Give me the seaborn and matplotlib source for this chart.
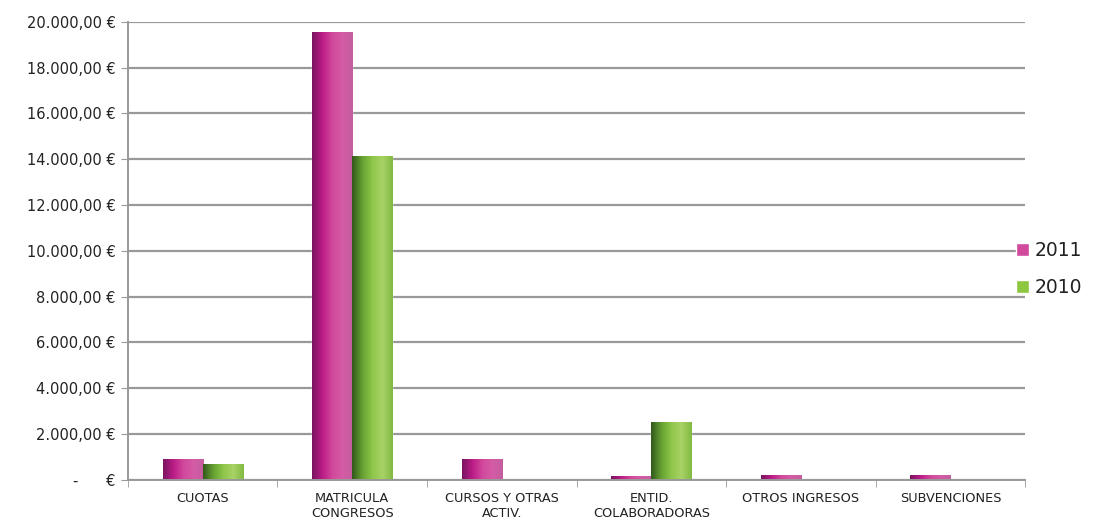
import numpy as np
import pandas as pd
import matplotlib
matplotlib.use("Agg")
import matplotlib.pyplot as plt
from matplotlib.ticker import FuncFormatter, FixedLocator
from matplotlib.colors import LinearSegmentedColormap
import seaborn as sns

categories = ["CUOTAS", "MATRICULA\nCONGRESOS", "CURSOS Y OTRAS\nACTIV.",
              "ENTID.\nCOLABORADORAS", "OTROS INGRESOS", "SUBVENCIONES"]
series_names = ["2011", "2010"]
values_2011 = [905, 19540, 920, 160, 205, 205]
values_2010 = [690, 14140, 0, 2510, 0, 0]
y_ticks = list(range(0, 20001, 2000))

df = pd.DataFrame({
    "cat": categories * 2,
    "year": [series_names[0]] * 6 + [series_names[1]] * 6,
    "val": values_2011 + values_2010,
})

colors = {"2011": "#d24a9e", "2010": "#8dc63f"}
grads = {
    "2011": ["#7a1460", "#bb1c86", "#d2489c", "#d45ca6", "#c45e9e"],
    "2010": ["#33591c", "#66a232", "#8fc64a", "#a8d266", "#82ba42"],
}

sns.set_style("white")
plt.rcParams["font.family"] = ["DejaVu Sans"]

fig = plt.figure(figsize=(11.12, 5.24), dpi=100)
ax = fig.add_axes([0.115, 0.084, 0.807, 0.8746])

sns.barplot(data=df, x="cat", y="val", hue="year", palette=colors,
            width=0.535, ax=ax, saturation=1, legend=True)

ax.set_ylim(0, 20000)
ax.set_xlim(-0.5, 5.5)
ax.yaxis.set_major_locator(FixedLocator(y_ticks))

def fmt(v, pos):
    if v == 0:
        return "-      €"
    s = f"{v:,.2f}".replace(",", "X").replace(".", ",").replace("X", ".")
    return s + " €"
ax.yaxis.set_major_formatter(FuncFormatter(fmt))

ax.grid(axis="y", color="#999999", linewidth=1.6)
ax.set_axisbelow(True)
for s in ["top", "right"]:
    ax.spines[s].set_visible(False)
for s in ["left", "bottom"]:
    ax.spines[s].set_color("#999999")
    ax.spines[s].set_linewidth(1.4)

ax.tick_params(axis="y", left=True, length=5, color="#999999", labelsize=10.5,
               labelcolor="#222222", pad=4)
ax.tick_params(axis="x", which="major", length=0, labelsize=9.3, labelcolor="#222222", pad=9)
ax.set_xticks(np.arange(-0.5, 6.0, 1.0), minor=True)
ax.tick_params(axis="x", which="minor", length=5, color="#999999", bottom=True)
ax.set_xlabel("")
ax.set_ylabel("")

# gradient overlay on bars
for cont, name in zip(ax.containers, series_names):
    cmap = LinearSegmentedColormap.from_list(name, grads[name])
    grad = np.linspace(0, 1, 64).reshape(1, -1)
    for p in cont.patches:
        h = p.get_height()
        if h <= 0:
            continue
        x0, w = p.get_x(), p.get_width()
        im = ax.imshow(grad, cmap=cmap, aspect="auto",
                       extent=[x0, x0 + w, 0, h], zorder=p.get_zorder() + 0.1,
                       interpolation="bicubic")
        im.set_clip_path(p)

ax.set_xlim(-0.5, 5.5)
ax.set_ylim(0, 20000)

leg = ax.legend(loc="center left", bbox_to_anchor=(0.975, 0.46), frameon=False,
                fontsize=13.5, handlelength=0.7, handleheight=0.7, handletextpad=0.3,
                labelspacing=0.95, borderaxespad=0.3)
for t in leg.get_texts():
    t.set_color("#222222")

fig.savefig("out.png", dpi=100)
